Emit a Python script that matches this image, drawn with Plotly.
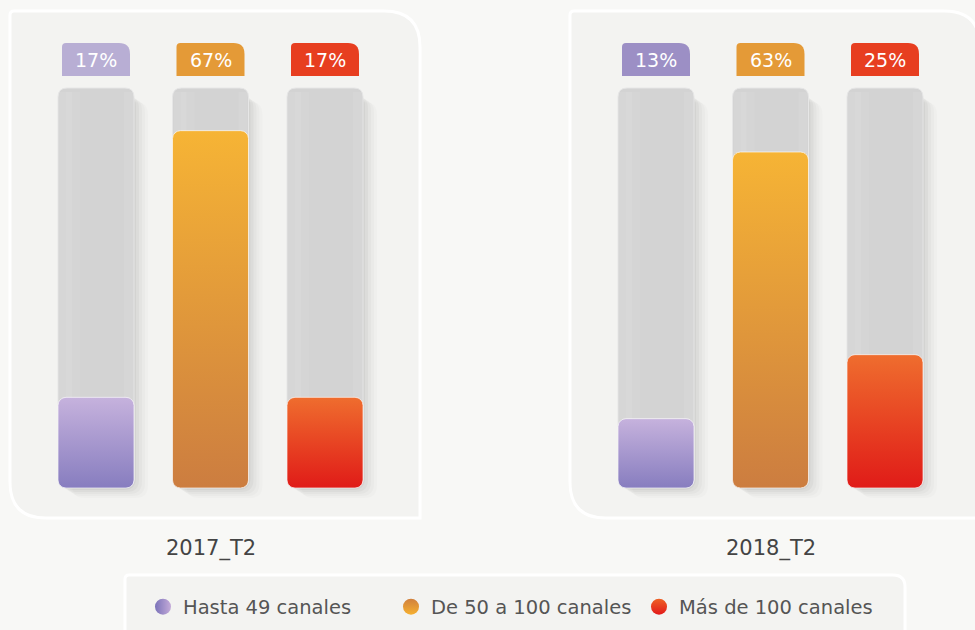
import math
import plotly.graph_objects as go

# ---------------- data ----------------
periods = ["2017_T2", "2018_T2"]
series = ["Hasta 49 canales", "De 50 a 100 canales", "Más de 100 canales"]
values_2017 = [17, 67, 17]
values_2018 = [13, 63, 25]
values = [values_2017, values_2018]

# ---------------- style ----------------
W, H = 975, 630
FONT = "DejaVu Sans"
bar_top = ["#c6b2dd", "#f6b435", "#ef6d2e"]
bar_bot = ["#877dbf", "#cc7d40", "#e01b18"]
label_colors = [["#b8aed4", "#e49a37", "#e73e20"],
                ["#9c8fc5", "#e49a37", "#e73e20"]]
legend_a = ["#7b73b9", "#d0803e", "#ee6226"]
legend_b = ["#c4abd9", "#f6b030", "#e2191a"]
legend_grad = ["horizontal", "vertical", "vertical"]
panel_fill = "#f3f3f1"
bg = "#f8f8f6"
track_fill = "#d3d3d3"
YMAX = 75

# subplot geometry (pixels)
x_domains = [[38.75 / W, 382.25 / W], [598.75 / W, 942.25 / W]]
y_domain = [(H - 488) / H, (H - 88) / H]
PX_X = 114.5            # pixels per x unit
PX_Y = 400 / YMAX       # pixels per y unit
BAR_W = 76 / PX_X       # bar width in x units
RAD = 8                 # corner radius (px)


def rr(x0, y0, x1, y1, rtl, rtr, rbr, rbl):
    """rounded rect path, y up (x0<x1, y0<y1)"""
    return (f"M {x0 + rbl},{y0} L {x1 - rbr},{y0} Q {x1},{y0} {x1},{y0 + rbr} "
            f"L {x1},{y1 - rtr} Q {x1},{y1} {x1 - rtr},{y1} L {x0 + rtl},{y1} "
            f"Q {x0},{y1} {x0},{y1 - rtl} L {x0},{y0 + rbl} Q {x0},{y0} {x0 + rbl},{y0} Z")


def screen_rr(L, T, R, B, rtl, rtr, rbr, rbl):
    return rr(L, -B, R, -T, rtl, rtr, rbr, rbl)


def bar_outline(c, v):
    """outline of a rounded bar at category position c with value v (data units)"""
    rx, ry = RAD / PX_X, RAD / PX_Y
    x0, x1 = c - BAR_W / 2, c + BAR_W / 2
    y0, y1 = 0, v
    corners = [(x1 - rx, y0 + ry, -90), (x1 - rx, y1 - ry, 0),
               (x0 + rx, y1 - ry, 90), (x0 + rx, y0 + ry, 180)]
    xs, ys = [], []
    for cx, cy, a0 in corners:
        for k in range(9):
            a = math.radians(a0 + k * 90 / 8)
            xs.append(cx + rx * math.cos(a))
            ys.append(cy + ry * math.sin(a))
    xs.append(xs[0]); ys.append(ys[0])
    return xs, ys


fig = go.Figure()
shapes = []
annotations = []

# panels
for left in (10, 570):
    shapes.append(dict(type="path", xref="paper", yref="paper", xsizemode="pixel", ysizemode="pixel",
                       xanchor=0, yanchor=1, layer="below",
                       path=screen_rr(left, 11, left + 410, 518, 4, 36, 0, 36),
                       fillcolor=panel_fill, line=dict(color="white", width=3)))
# legend box
shapes.append(dict(type="path", xref="paper", yref="paper", xsizemode="pixel", ysizemode="pixel",
                   xanchor=0, yanchor=1, layer="below",
                   path=screen_rr(125, 575, 905, 645, 4, 12, 0, 0),
                   fillcolor=panel_fill, line=dict(color="white", width=3)))

for p, period in enumerate(periods):
    ax = "" if p == 0 else str(p + 1)
    xref, yref = "x" + ax, "y" + ax
    for i, s in enumerate(series):
        v = values[p][i]
        xs, ys = bar_outline(i, v)
        fig.add_trace(go.Scatter(
            x=xs, y=ys, mode="lines", fill="toself", name=s, legendgroup=s, showlegend=False,
            line=dict(color="rgba(255,255,255,0.65)", width=1),
            fillgradient=dict(type="vertical", colorscale=[[0, bar_bot[i]], [1, bar_top[i]]]),
            hoveron="fills", text=f"{period} · {s}: {v}%", hoverinfo="text",
            xaxis=xref, yaxis=yref,
        ))
        common = dict(xref=xref, yref=yref + " domain", xsizemode="pixel", ysizemode="pixel",
                      xanchor=i, yanchor=0, layer="below")
        # soft shadow
        for dx, dy, a in [(2, 2, 0.035), (5, 4, 0.03), (8, 6, 0.025), (11, 8, 0.02), (14, 10, 0.015)]:
            shapes.append(dict(type="path", path=rr(-38 + dx, -dy, 38 + dx, 400 - dy - 4, 12, 12, 12, 12),
                               fillcolor=f"rgba(0,0,0,{a})", line=dict(width=0), **common))
        # track
        shapes.append(dict(type="path", path=rr(-38, 0, 38, 400, 9, 9, 9, 9),
                           fillcolor=track_fill, line=dict(color="#e6e6e6", width=1), **common))
        # subtle light bands on the track
        for x0, x1, a in [(-37, -30, 0.08), (-30, -24, 0.13), (-24, -16, 0.06), (28, 37, 0.08)]:
            shapes.append(dict(type="path", path=f"M {x0},4 L {x1},4 L {x1},396 L {x0},396 Z",
                               fillcolor=f"rgba(255,255,255,{a})", line=dict(width=0), **common))
        # label tab
        shapes.append(dict(type="path", xref=xref, yref="paper", xsizemode="pixel", ysizemode="pixel",
                           xanchor=i, yanchor=1, layer="below",
                           path=rr(-34, -76, 34, -43, 4, 11, 0, 0),
                           fillcolor=label_colors[p][i], line=dict(width=0)))
        annotations.append(dict(x=i, y=1 - 60 / H, xref=xref, yref="paper", text=f"{v}%",
                                showarrow=False, font=dict(family=FONT, size=19, color="white"),
                                xanchor="center", yanchor="middle"))
    annotations.append(dict(x=0.5, y=1 - 548 / H, xref=xref + " domain", yref="paper", text=period,
                            showarrow=False, font=dict(family=FONT, size=21, color="#444444"),
                            xanchor="center", yanchor="middle"))

# legend entries
for i, s in enumerate(series):
    fig.add_trace(go.Scatter(x=[None], y=[None], mode="markers", name=s, legendgroup=s,
                             marker=dict(size=19, color=legend_a[i],
                                         gradient=dict(type=legend_grad[i], color=legend_b[i])),
                             showlegend=True))

axis_common = dict(showgrid=False, zeroline=False, showticklabels=False, showline=False, fixedrange=True)
fig.update_layout(
    width=W, height=H, margin=dict(l=0, r=0, t=0, b=0),
    paper_bgcolor=bg, plot_bgcolor="rgba(0,0,0,0)",
    xaxis=dict(domain=x_domains[0], range=[-0.5, 2.5], **axis_common),
    yaxis=dict(domain=y_domain, range=[0, YMAX], **axis_common),
    xaxis2=dict(domain=x_domains[1], range=[-0.5, 2.5], **axis_common),
    yaxis2=dict(domain=y_domain, range=[0, YMAX], anchor="x2", **axis_common),
    shapes=shapes, annotations=annotations,
    legend=dict(orientation="h", x=515 / W, xanchor="center", y=1 - 607 / H, yanchor="middle",
                bgcolor="rgba(0,0,0,0)", entrywidth=203,
                font=dict(family=FONT, size=19.5, color="#555555")),
    font=dict(family=FONT),
    hovermode="closest",
)
fig.write_html("out.html", config={"displayModeBar": False},
               post_script="document.body.style.margin='0';document.body.style.overflow='hidden';")
